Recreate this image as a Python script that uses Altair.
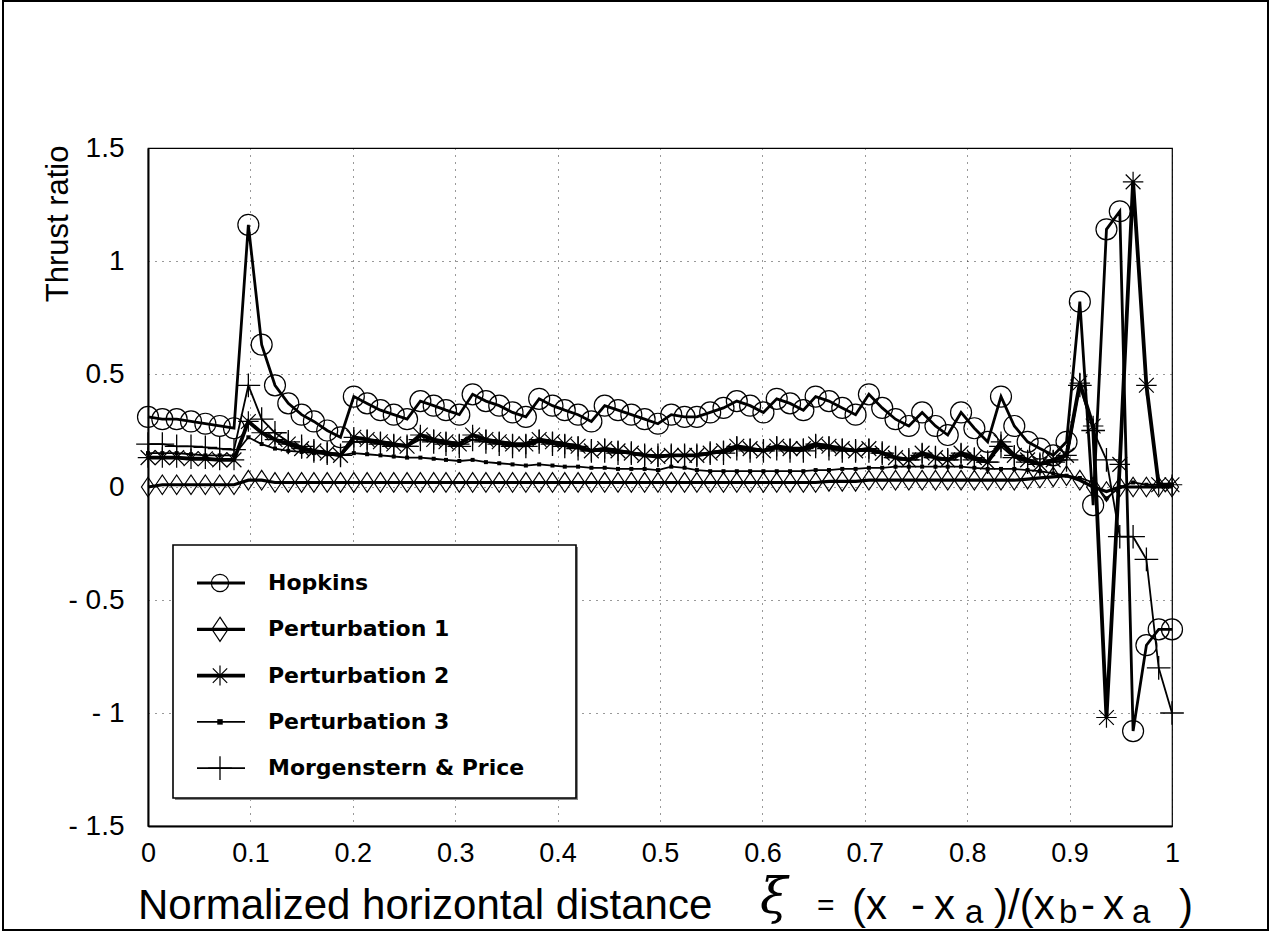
import altair as alt
import pandas as pd

# ---------------- data ----------------
X = [0.000, 0.014, 0.028, 0.042, 0.056, 0.070, 0.084, 0.098,
     0.111, 0.124, 0.137, 0.150, 0.162, 0.175, 0.188, 0.201, 0.214, 0.227,
     0.240, 0.253, 0.266, 0.279, 0.291, 0.304, 0.317, 0.330, 0.343, 0.356,
     0.369, 0.382, 0.395, 0.407, 0.420, 0.433, 0.446, 0.459, 0.472, 0.485,
     0.498, 0.511, 0.524, 0.536, 0.549, 0.562, 0.575, 0.588, 0.601, 0.614,
     0.627, 0.640, 0.652, 0.665, 0.678, 0.691, 0.704, 0.717, 0.730, 0.743,
     0.756, 0.769, 0.781, 0.794, 0.807, 0.820, 0.833, 0.846, 0.859, 0.871,
     0.884, 0.897, 0.910, 0.923, 0.936, 0.949, 0.962, 0.975, 0.987, 1.000]

HOPKINS = [0.31, 0.30, 0.30, 0.29, 0.28, 0.27, 0.26,
           1.16, 0.63, 0.45, 0.37, 0.32, 0.29, 0.25, 0.22,
           0.40, 0.37, 0.34, 0.32, 0.30,
           0.38, 0.36, 0.34, 0.32,
           0.41, 0.38, 0.36, 0.33, 0.31,
           0.39, 0.36, 0.34, 0.32, 0.29,
           0.36, 0.34, 0.32, 0.30, 0.28,
           0.32, 0.31, 0.31, 0.33, 0.35,
           0.38, 0.36, 0.33, 0.39, 0.37, 0.34,
           0.40, 0.38, 0.35, 0.32,
           0.41, 0.35, 0.30, 0.27,
           0.33, 0.27, 0.23,
           0.33, 0.26, 0.20,
           0.40, 0.27, 0.20, 0.17, 0.14, 0.20,
           0.82, -0.08, 1.14, 1.22, -1.08, -0.70, -0.63, -0.63]

PERT1 = [0.00, 0.01, 0.01, 0.01, 0.01, 0.01, 0.01,
         0.03, 0.03, 0.02, 0.02, 0.02, 0.02, 0.02, 0.02,
         0.02, 0.02, 0.02, 0.02, 0.02,
         0.02, 0.02, 0.02, 0.02,
         0.02, 0.02, 0.02, 0.02, 0.02,
         0.02, 0.02, 0.02, 0.02, 0.02,
         0.02, 0.02, 0.02, 0.02, 0.02,
         0.02, 0.02, 0.02, 0.02, 0.02,
         0.02, 0.02, 0.02, 0.02, 0.02, 0.02,
         0.02, 0.025, 0.025, 0.025,
         0.03, 0.03, 0.03, 0.03,
         0.03, 0.03, 0.03,
         0.03, 0.03, 0.03,
         0.03, 0.03, 0.035, 0.04, 0.045, 0.05,
         0.03, 0.00, -0.02, 0.00, 0.00, 0.00, 0.00, 0.00]

PERT2 = [0.13, 0.13, 0.13, 0.125, 0.125, 0.12, 0.12,
         0.29, 0.24, 0.21, 0.19, 0.17, 0.16, 0.15, 0.14,
         0.22, 0.21, 0.20, 0.19, 0.18,
         0.23, 0.21, 0.20, 0.19,
         0.23, 0.21, 0.20, 0.19, 0.19,
         0.21, 0.20, 0.19, 0.18, 0.16,
         0.17, 0.16, 0.15, 0.14, 0.135,
         0.14, 0.14, 0.14, 0.15, 0.16,
         0.18, 0.17, 0.16, 0.18, 0.17, 0.17,
         0.19, 0.18, 0.17, 0.16,
         0.17, 0.15, 0.13, 0.12,
         0.15, 0.13, 0.12,
         0.15, 0.13, 0.11,
         0.20, 0.14, 0.12, 0.10, 0.12, 0.14,
         0.46, 0.27, -1.02, 0.10, 1.35, 0.45, 0.01, 0.01]

PERT3 = [0.15, 0.15, 0.15, 0.145, 0.14, 0.14, 0.14,
         0.22, 0.19, 0.17, 0.16, 0.155, 0.15, 0.145, 0.14,
         0.15, 0.145, 0.14, 0.135, 0.13,
         0.13, 0.125, 0.12, 0.115,
         0.12, 0.11, 0.105, 0.10, 0.095,
         0.10, 0.095, 0.09, 0.09, 0.085,
         0.085, 0.08, 0.08, 0.08, 0.075,
         0.09, 0.085, 0.075, 0.07, 0.07,
         0.07, 0.07, 0.07, 0.07, 0.07, 0.07,
         0.075, 0.075, 0.08, 0.08,
         0.085, 0.085, 0.09, 0.09,
         0.09, 0.09, 0.09,
         0.09, 0.085, 0.08,
         0.08, 0.08, 0.075, 0.07, 0.06, 0.05,
         0.04, 0.02, -0.05, 0.00, 0.02, 0.01, 0.01, 0.01]

MP = [0.19, 0.19, 0.18, 0.18, 0.175, 0.17, 0.165,
      0.45, 0.30, 0.24, 0.20, 0.18, 0.16, 0.15, 0.14,
      0.20, 0.20, 0.19, 0.18, 0.18,
      0.21, 0.20, 0.19, 0.18,
      0.21, 0.20, 0.19, 0.18, 0.18,
      0.20, 0.19, 0.18, 0.17, 0.16,
      0.16, 0.15, 0.15, 0.14, 0.14,
      0.14, 0.14, 0.14, 0.15, 0.15,
      0.17, 0.16, 0.16, 0.17, 0.16, 0.16,
      0.18, 0.17, 0.16, 0.16,
      0.16, 0.15, 0.13, 0.12,
      0.14, 0.13, 0.12,
      0.14, 0.12, 0.11,
      0.18, 0.13, 0.11, 0.10, 0.11, 0.12,
      0.45, 0.25, 0.12, -0.22, -0.22, -0.32, -0.80, -1.00]

SERIES = ["Hopkins", "Perturbation 1", "Perturbation 2", "Perturbation 3",
          "Morgenstern & Price"]
VALUES = {"Hopkins": HOPKINS, "Perturbation 1": PERT1, "Perturbation 2": PERT2,
          "Perturbation 3": PERT3, "Morgenstern & Price": MP}
for k, v in VALUES.items():
    assert len(v) == len(X), (k, len(v))

X_TICKS = [0, 0.1, 0.2, 0.3, 0.4, 0.5, 0.6, 0.7, 0.8, 0.9, 1]
Y_TICKS = [-1.5, -1, -0.5, 0, 0.5, 1, 1.5]

# ---------------- styles ----------------
STAR = "M-1,0L1,0M0,-1L0,1M-0.72,-0.72L0.72,0.72M-0.72,0.72L0.72,-0.72"
PLUS = "M-1,0L1,0M0,-1L0,1"
DIAMOND = "M0,-1.5L1,0L0,1.5L-1,0Z"
STYLE = {
    "Hopkins": dict(shape="circle", size=440, filled=False, lw=2.8, mw=1.2, lsize=300),
    "Perturbation 1": dict(shape=DIAMOND, size=170, filled=False, lw=3.2, mw=1.2, lsize=260),
    "Perturbation 2": dict(shape=STAR, size=420, filled=False, lw=3.8, mw=1.2, lsize=400),
    "Perturbation 3": dict(shape="square", size=16, filled=True, lw=1.8, mw=1, lsize=30),
    "Morgenstern & Price": dict(shape=PLUS, size=560, filled=False, lw=1.8, mw=1.3, lsize=560),
}
DRAW_ORDER = ["Perturbation 1", "Perturbation 3", "Morgenstern & Price",
              "Perturbation 2", "Hopkins"]

FONT = "Liberation Sans"

XAXIS = alt.Axis(values=X_TICKS, format="~g", title=None,
                 labelFont=FONT, labelFontSize=27, labelColor="black",
                 labelPadding=14, labelFlush=False, labelOverlap=False,
                 ticks=False, domain=True, domainColor="black", domainWidth=2,
                 grid=True, gridDash=[1, 6], gridColor="black", gridOpacity=0.8)
YAXIS = alt.Axis(values=Y_TICKS,
                 labelExpr="datum.value < 0 ? '- ' + format(-datum.value, '~g') : format(datum.value, '~g')",
                 title="Thrust ratio", titleFont=FONT, titleFontSize=31,
                 titleFontWeight="normal", titleColor="black", titleAngle=270,
                 titleAlign="right", titleBaseline="middle", titleX=-90, titleY=-3,
                 labelFont=FONT, labelFontSize=28, labelColor="black",
                 labelPadding=24, labelFlush=False, labelOverlap=False,
                 ticks=False, domain=True, domainColor="black", domainWidth=2,
                 grid=True, gridDash=[1, 6], gridColor="black", gridOpacity=0.8)


def xenc():
    return alt.X("x:Q", scale=alt.Scale(domain=[0, 1], nice=False, zero=False), axis=XAXIS)


def yenc():
    return alt.Y("y:Q", scale=alt.Scale(domain=[-1.5, 1.5], nice=False, zero=False), axis=YAXIS)


one = alt.Data(values=[{"a": 1}])
layers = []

# outer page frame
layers.append(alt.Chart(one).mark_rect(fill=None, stroke="black", strokeWidth=2).encode(
    x=alt.value(-145), x2=alt.value(1120), y=alt.value(-147), y2=alt.value(782)))

for name in DRAW_ORDER:
    st = STYLE[name]
    df = pd.DataFrame({"x": X, "y": VALUES[name]})
    base = alt.Chart(df)
    layers.append(base.mark_line(color="black", strokeWidth=st["lw"]).encode(x=xenc(), y=yenc()))
    layers.append(base.mark_point(shape=st["shape"], size=st["size"], filled=st["filled"],
                                  color="black", strokeWidth=st["mw"], opacity=1).encode(
        x=xenc(), y=yenc()))

# legend box (with a faint shadow on the right/bottom, as in the scan)
layers.append(alt.Chart(one).mark_rect(fill="#888888", stroke=None).encode(
    x=alt.value(27), x2=alt.value(430), y=alt.value(399), y2=alt.value(652)))
layers.append(alt.Chart(one).mark_rect(fill="white", stroke="black", strokeWidth=1.6).encode(
    x=alt.value(25), x2=alt.value(428), y=alt.value(397), y2=alt.value(650)))

LEG_Y0, LEG_DY = 435, 46.3
for i, name in enumerate(SERIES):
    st = STYLE[name]
    yv = LEG_Y0 + i * LEG_DY
    layers.append(alt.Chart(one).mark_rule(color="black", strokeWidth=st["lw"]).encode(
        x=alt.value(49), x2=alt.value(97), y=alt.value(yv)))
    layers.append(alt.Chart(one).mark_point(shape=st["shape"], size=st["lsize"], filled=st["filled"],
                                            color="black", strokeWidth=st["mw"], opacity=1).encode(
        x=alt.value(72), y=alt.value(yv)))
    layers.append(alt.Chart(one).mark_text(text=name, align="left", baseline="middle",
                                           font="DejaVu Sans", fontWeight="bold", fontSize=22,
                                           color="black").encode(
        x=alt.value(120), y=alt.value(yv)))

# x-axis title with subscripts
TITLE_PIECES = [
    ("Normalized horizontal distance", -10, 771, 42, FONT, "normal"),
    ("ξ", 612, 765, 50, "DejaVu Serif", "italic"),
    ("=", 669, 767, 30, FONT, "normal"),
    ("(x", 704, 771, 42, FONT, "normal"),
    ("-", 763, 771, 42, FONT, "normal"),
    ("x", 786, 771, 42, FONT, "normal"),
    ("a", 817, 775, 33, FONT, "normal"),
    (")/(x", 846, 771, 42, FONT, "normal"),
    ("b", 911, 775, 33, FONT, "normal"),
    ("-", 933, 771, 42, FONT, "normal"),
    ("x", 955, 771, 42, FONT, "normal"),
    ("a", 984, 775, 33, FONT, "normal"),
    (")", 1031, 771, 42, FONT, "normal"),
]
for txt, px, py, fs, fam, style in TITLE_PIECES:
    layers.append(alt.Chart(one).mark_text(text=txt, align="left", baseline="alphabetic",
                                           font=fam, fontSize=fs, fontStyle=style,
                                           color="black").encode(
        x=alt.value(px), y=alt.value(py)))

chart = alt.layer(*layers).properties(
    width=1024, height=678,
    autosize=alt.AutoSizeParams(type="none"),
    padding={"left": 148, "top": 148, "right": 101, "bottom": 106},
    background="white",
).configure_view(stroke="black", strokeWidth=1.2)

chart.save("out.html", embed_options={"renderer": "svg", "actions": False})
